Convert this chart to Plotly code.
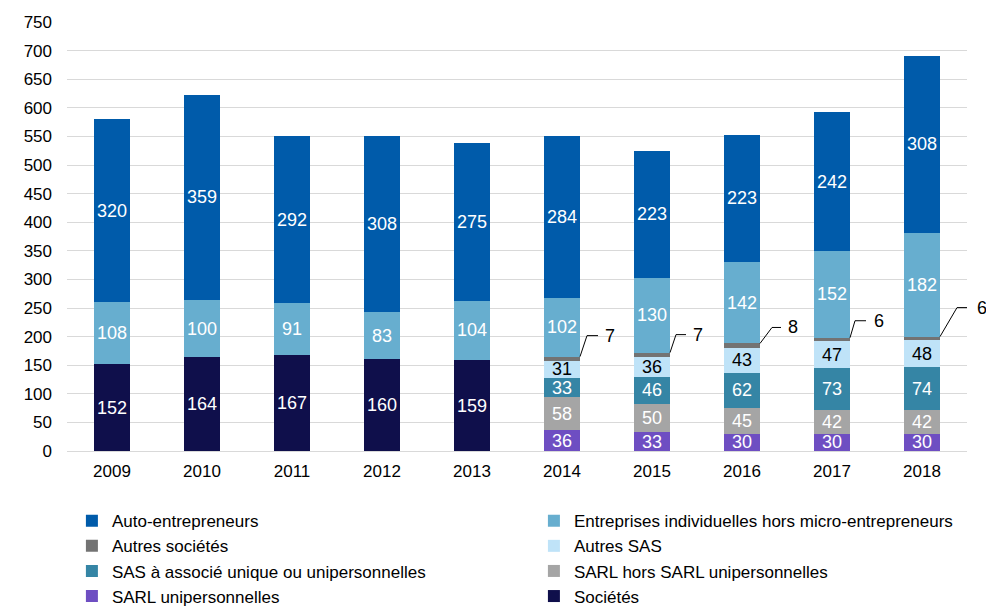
import plotly.graph_objects as go

years = ["2009", "2010", "2011", "2012", "2013", "2014", "2015", "2016", "2017", "2018"]

societes = [152, 164, 167, 160, 159, None, None, None, None, None]
sarl_uni = [None, None, None, None, None, 36, 33, 30, 30, 30]
sarl_hors = [None, None, None, None, None, 58, 50, 45, 42, 42]
sas_assoc = [None, None, None, None, None, 33, 46, 62, 73, 74]
autres_sas = [None, None, None, None, None, 31, 36, 43, 47, 48]
autres_soc = [None, None, None, None, None, 7, 7, 8, 6, 6]
ent_indiv = [108, 100, 91, 83, 104, 102, 130, 142, 152, 182]
auto_entr = [320, 359, 292, 308, 275, 284, 223, 223, 242, 308]

y_ticks = list(range(0, 751, 50))

# styling: (name, values, color, label color, show inside label)
series = [
    ("Sociétés", societes, "#0F0F4B", "white", True),
    ("SARL unipersonnelles", sarl_uni, "#6E4EC2", "white", True),
    ("SARL hors SARL unipersonnelles", sarl_hors, "#A5A5A5", "white", True),
    ("SAS à associé unique ou unipersonnelles", sas_assoc, "#3585A5", "white", True),
    ("Autres SAS", autres_sas, "#BFE3F8", "black", True),
    ("Autres sociétés", autres_soc, "#737373", "black", False),
    ("Entreprises individuelles hors micro-entrepreneurs", ent_indiv, "#67AECF", "white", True),
    ("Auto-entrepreneurs", auto_entr, "#005BAA", "white", True),
]

FONT = "Liberation Sans, Arial, sans-serif"

fig = go.Figure()
for name, vals, color, tcolor, show in series:
    fig.add_trace(go.Bar(
        x=years, y=vals, name=name,
        marker=dict(color=color, line=dict(width=0)),
        texttemplate="%{y}" if show else None,
        textposition="inside" if show else "none",
        insidetextanchor="middle",
        textangle=0,
        textfont=dict(color=tcolor, size=18, family=FONT),
        hoverinfo="skip",
    ))

# callout labels for "Autres sociétés"
callout = [(7, 21, 18, 30), (6, 18, 16, 28), (12, 16, 21, 33), (5, 17, 16, 29), (17, 29, 28, 42)]
half_bar = 0.2
k = 0
for i, yr in enumerate(years):
    if autres_soc[i] is None:
        continue
    base = sarl_uni[i] + sarl_hors[i] + sas_assoc[i] + autres_sas[i] + autres_soc[i]
    dxc, dyc, dxe, dxt = callout[k]
    k += 1
    fig.add_shape(
        type="path", xref="x", yref="y",
        xsizemode="pixel", ysizemode="pixel",
        xanchor=i + half_bar, yanchor=base,
        path=f"M0,0 L{dxc},{dyc} L{dxe},{dyc}",
        line=dict(color="black", width=1),
    )
    fig.add_annotation(
        x=i + half_bar, y=base, xref="x", yref="y",
        text=str(autres_soc[i]), showarrow=False,
        xshift=dxt, yshift=dyc,
        font=dict(size=18, color="black", family=FONT),
    )

fig.update_layout(
    barmode="stack",
    bargap=0.6,
    width=986, height=609,
    margin=dict(l=67, r=19, t=22, b=158, autoexpand=False),
    plot_bgcolor="white", paper_bgcolor="white",
    font=dict(family=FONT, size=17, color="black"),
    uniformtext=dict(minsize=18, mode="show"),
    showlegend=True,
    legend=dict(
        orientation="h", traceorder="reversed",
        x=-0.0001, y=-0.110, xanchor="left", yanchor="top",
        entrywidth=417, entrywidthmode="pixels",
        borderwidth=5, bordercolor="rgba(0,0,0,0)", bgcolor="rgba(0,0,0,0)",
        font=dict(size=17, family=FONT, color="black"),
        itemclick=False, itemdoubleclick=False,
    ),
)
fig.update_yaxes(
    range=[0, 750], tickvals=y_ticks,
    showgrid=True, gridcolor="#D9D9D9", gridwidth=1.3,
    zeroline=True, zerolinecolor="#D9D9D9", zerolinewidth=1.3,
    showline=False, ticks="", ticklabelstandoff=14,
    tickfont=dict(size=17, family=FONT, color="black"),
)
fig.update_xaxes(
    range=[-0.5, len(years) - 0.5],
    showgrid=False, showline=False, ticks="",
    ticklabelstandoff=8,
    tickfont=dict(size=17, family=FONT, color="black"),
)

fig.write_html(
    "out.html",
    config={"displayModeBar": False},
    post_script="document.body.style.margin='0';document.body.style.overflow='hidden';",
)
